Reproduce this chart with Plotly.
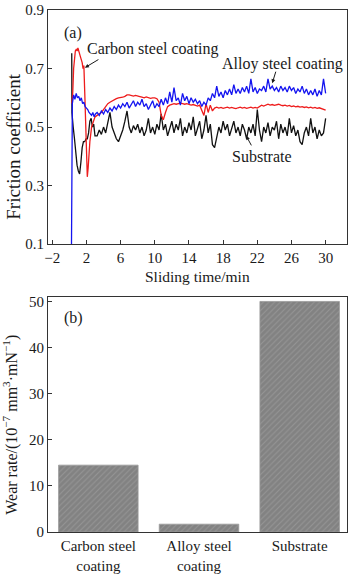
import numpy as np
import plotly.graph_objects as go

# ---------------- friction curves (a) ----------------
# start-up transient, sampled irregularly
carbon_t0 = [0.3, 0.4, 0.5, 0.6, 0.7, 0.8, 0.9, 1.0, 1.1, 1.2, 1.3, 1.4,
             1.5, 1.6, 1.7, 1.8, 1.9, 2.0, 2.1, 2.2, 2.4, 2.6, 2.8, 3.0]
carbon_v0 = [0.58, 0.62, 0.70, 0.74, 0.76, 0.765, 0.76, 0.77, 0.755, 0.75, 0.74, 0.73,
             0.72, 0.70, 0.71, 0.62, 0.50, 0.40, 0.33, 0.36, 0.45, 0.50, 0.52, 0.535]

alloy_t0 = [0.25, 0.3, 0.35, 0.5, 0.65, 0.8, 0.95, 1.1, 1.25, 1.4, 1.55,
            1.7, 1.85, 2.0, 2.15, 2.3, 2.45, 2.6, 2.75, 2.9, 3.05]
alloy_v0 = [0.10, 0.45, 0.58, 0.61, 0.595, 0.615, 0.60, 0.605, 0.59, 0.60, 0.58,
            0.585, 0.57, 0.565, 0.56, 0.55, 0.545, 0.54, 0.55, 0.535, 0.545]

substrate_t0 = [0.2, 0.28, 0.3, 0.35, 0.45, 0.6, 0.75, 0.9, 1.05, 1.2, 1.35,
                1.5, 1.65, 1.8, 1.95, 2.1, 2.25, 2.4, 2.55, 2.7, 2.85, 3.0]
substrate_v0 = [0.75, 0.75, 0.55, 0.52, 0.50, 0.46, 0.41, 0.37, 0.35, 0.34, 0.38,
                0.43, 0.45, 0.45, 0.46, 0.46, 0.48, 0.52, 0.53, 0.50, 0.51, 0.47]

# steady sliding, every 0.25 min from 3.25 to 30 min (one row per minute)
carbon_v = [
    0.54, 0.545, 0.55, 0.56,
    0.57, 0.58, 0.585, 0.59,
    0.595, 0.597, 0.60, 0.60,
    0.602, 0.605, 0.61, 0.61,
    0.608, 0.606, 0.608, 0.605,
    0.604, 0.602, 0.60, 0.603,
    0.60, 0.598, 0.60, 0.60,
    0.597, 0.585, 0.54, 0.525,
    0.55, 0.57, 0.575, 0.578,
    0.58, 0.578, 0.58, 0.582,
    0.58, 0.578, 0.58, 0.578,
    0.575, 0.577, 0.575, 0.572,
    0.575, 0.56, 0.54, 0.58,
    0.55, 0.575, 0.555, 0.565,
    0.568, 0.565, 0.567, 0.564,
    0.566, 0.568, 0.565, 0.567,
    0.565, 0.563, 0.566, 0.568,
    0.565, 0.567, 0.564, 0.566,
    0.568, 0.565, 0.567, 0.565,
    0.57, 0.575, 0.572, 0.576,
    0.578, 0.575, 0.577, 0.574,
    0.576, 0.578, 0.575, 0.573,
    0.575, 0.572, 0.574, 0.57,
    0.572, 0.569, 0.571, 0.568,
    0.57, 0.567, 0.569, 0.566,
    0.568, 0.565, 0.567, 0.564,
    0.566, 0.563, 0.562, 0.558,
]

alloy_v = [
    0.55, 0.54, 0.555, 0.545,
    0.56, 0.55, 0.565, 0.555,
    0.57, 0.56, 0.575, 0.565,
    0.58, 0.57, 0.585, 0.565,
    0.58, 0.59, 0.57, 0.585,
    0.575, 0.595, 0.57, 0.58,
    0.56, 0.575, 0.59, 0.565,
    0.58, 0.57, 0.595, 0.575,
    0.60, 0.58, 0.62, 0.585,
    0.635, 0.59, 0.60, 0.575,
    0.615, 0.59, 0.605, 0.58,
    0.60, 0.585, 0.595, 0.58,
    0.59, 0.57, 0.585, 0.575,
    0.60, 0.59, 0.615, 0.60,
    0.64, 0.605, 0.62, 0.60,
    0.625, 0.61, 0.63, 0.61,
    0.645, 0.615, 0.63, 0.615,
    0.635, 0.62, 0.64, 0.615,
    0.665, 0.62, 0.635, 0.615,
    0.63, 0.625, 0.64, 0.62,
    0.665, 0.63, 0.64, 0.625,
    0.635, 0.62, 0.64, 0.625,
    0.635, 0.62, 0.64, 0.625,
    0.635, 0.615, 0.63, 0.62,
    0.64, 0.615, 0.63, 0.61,
    0.625, 0.61, 0.63, 0.605,
    0.625, 0.61, 0.665, 0.615,
]

substrate_v = [
    0.47, 0.49, 0.475, 0.50,
    0.48, 0.52, 0.55, 0.50,
    0.48, 0.46, 0.45, 0.47,
    0.49, 0.52, 0.555, 0.50,
    0.48, 0.505, 0.49, 0.51,
    0.48, 0.50, 0.47, 0.49,
    0.53, 0.48, 0.50, 0.475,
    0.51, 0.49, 0.545, 0.49,
    0.51, 0.47, 0.50, 0.52,
    0.48, 0.51, 0.49, 0.53,
    0.47, 0.50, 0.48, 0.515,
    0.49, 0.535, 0.47, 0.50,
    0.52, 0.46, 0.49, 0.54,
    0.48, 0.51, 0.44, 0.43,
    0.47, 0.50, 0.48, 0.52,
    0.49, 0.51, 0.47, 0.50,
    0.52, 0.48, 0.50, 0.47,
    0.51, 0.49, 0.46, 0.50,
    0.48, 0.51, 0.47, 0.56,
    0.49, 0.45, 0.50, 0.48,
    0.515, 0.47, 0.50, 0.49,
    0.52, 0.46, 0.51, 0.48,
    0.50, 0.47, 0.53, 0.48,
    0.505, 0.47, 0.49, 0.45,
    0.44, 0.48, 0.50, 0.47,
    0.53, 0.48, 0.50, 0.46,
    0.49, 0.47, 0.48, 0.53,
]

x_ticks = [-2, 2, 6, 10, 14, 18, 22, 26, 30]
y_ticks_a = [0.1, 0.3, 0.5, 0.7, 0.9]

# ---------------- wear rate (b) ----------------
materials = ["Carbon steel<br>coating", "Alloy steel<br>coating", "Substrate"]
wear_rate = [14.5, 1.7, 50.0]
y_ticks_b = [0, 10, 20, 30, 40, 50]

FONT = "Liberation Serif, Times New Roman, serif"
INK = "#1a1a1a"


def series(t0, v0, v_steady):
    t_steady = 3.25 + 0.25 * np.arange(len(v_steady))
    return list(t0) + list(t_steady), list(v0) + list(v_steady)


fig = go.Figure()

for (t0, v0, vs, color) in [
    (substrate_t0, substrate_v0, substrate_v, "#111111"),
    (carbon_t0, carbon_v0, carbon_v, "#ee1c1c"),
    (alloy_t0, alloy_v0, alloy_v, "#1414f0"),
]:
    tx, vy = series(t0, v0, vs)
    fig.add_trace(go.Scatter(x=tx, y=vy, mode="lines",
                             line=dict(color=color, width=1.3),
                             xaxis="x", yaxis="y", showlegend=False))

fig.add_trace(go.Bar(
    x=materials, y=wear_rate, width=0.79,
    marker=dict(color="#858585",
                line=dict(color="#9a9a9a", width=0.8),
                pattern=dict(shape="/", bgcolor="#828282", fgcolor="#a8a8a8",
                             size=4, solidity=0.25, fillmode="overlay")),
    xaxis="x2", yaxis="y2", showlegend=False))

axis_common = dict(showline=True, linecolor="#333333", linewidth=1, mirror=True,
                   ticks="inside", ticklen=4, tickcolor="#333333",
                   showgrid=False, zeroline=False, ticklabeloverflow="allow",
                   tickfont=dict(family=FONT, size=15, color=INK))

fig.update_layout(
    width=350, height=576,
    margin=dict(l=48, r=2, t=3, b=38),
    paper_bgcolor="white", plot_bgcolor="white",
    font=dict(family=FONT, size=15, color=INK),
    xaxis=dict(domain=[0, 1], anchor="y", range=[-2.5, 32.5],
               tickvals=x_ticks, **axis_common),
    yaxis=dict(domain=[0.5514, 1], anchor="x", range=[0.1, 0.9],
               tickvals=y_ticks_a, tickformat=".1f", **axis_common),
    xaxis2=dict(domain=[0, 1], anchor="y2", range=[-0.5, 2.47],
                **{**axis_common, "ticks": ""}),
    yaxis2=dict(domain=[0, 0.4505], anchor="x2", range=[0, 51],
                tickvals=y_ticks_b, **axis_common),
    bargap=0.2,
)

label_font = dict(family=FONT, size=16, color=INK)
annotations = [
    dict(xref="x domain", yref="y domain", x=0.047, y=0.95, text="(a)",
         showarrow=False, font=label_font),
    dict(xref="x2 domain", yref="y2 domain", x=0.047, y=0.958, text="(b)",
         showarrow=False, font=label_font),
    dict(xref="x", yref="y", x=9.75, y=0.767, text="Carbon steel coating",
         showarrow=False, font=label_font),
    dict(xref="x", yref="y", x=24.9, y=0.717, text="Alloy steel coating",
         showarrow=False, font=label_font),
    dict(xref="x", yref="y", x=22.6, y=0.40, text="Substrate",
         showarrow=False, font=label_font),
    # pointers from the labels to their curves
    dict(xref="x", yref="y", x=1.82, y=0.703, ax=15, ay=-9, text="",
         showarrow=True, arrowhead=2, arrowsize=0.8, arrowwidth=1, arrowcolor=INK),
    dict(xref="x", yref="y", x=23.75, y=0.65, ax=4, ay=-13, text="",
         showarrow=True, arrowhead=2, arrowsize=0.8, arrowwidth=1, arrowcolor=INK),
    dict(xref="x", yref="y", x=20.7, y=0.47, ax=6, ay=11, text="",
         showarrow=True, arrowhead=2, arrowsize=0.8, arrowwidth=1, arrowcolor=INK),
    # axis titles
    dict(xref="paper", yref="paper", x=0.5, y=(538 - 276) / 535,
         text="Sliding time/min", showarrow=False,
         font=dict(family=FONT, size=15.5, color=INK),
         xanchor="center", yanchor="middle"),
    dict(xref="paper", yref="paper", x=(13 - 48) / 300, y=(538 - 143) / 535,
         text="Friction coefficient", textangle=-90, showarrow=False,
         font=dict(family=FONT, size=19, color=INK),
         xanchor="center", yanchor="middle"),
    dict(xref="paper", yref="paper", x=(11 - 48) / 300, y=(538 - 428) / 535,
         text="Wear rate/(10<sup>−7</sup> mm<sup>3</sup>·mN<sup>−1</sup>)",
         textangle=-90, showarrow=False, font=dict(family=FONT, size=16, color=INK),
         xanchor="center", yanchor="middle"),
]
fig.update_layout(annotations=annotations)

fig.write_html("out.html")
